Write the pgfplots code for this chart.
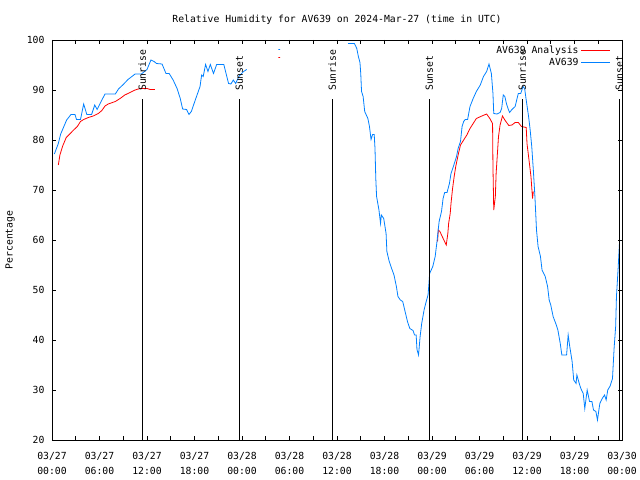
\documentclass[border=0pt]{standalone}
\usepackage{fontspec}
\setmainfont{DejaVu Sans Mono}
\usepackage{pgfplots}
\pgfplotsset{compat=1.18}
\definecolor{av}{RGB}{0,128,255}
\definecolor{an}{RGB}{255,0,0}
\begin{document}
\begin{tikzpicture}[font=\fontsize{9.8}{15}\selectfont]
\begin{axis}[
  scale only axis, width=570bp, height=400bp,
  xmin=0, xmax=72, ymin=20, ymax=100,
  unbounded coords=jump,
  xtick={0,6,...,72},
  xticklabels={03/27\\00:00,03/27\\06:00,03/27\\12:00,03/27\\18:00,03/28\\00:00,03/28\\06:00,03/28\\12:00,03/28\\18:00,03/29\\00:00,03/29\\06:00,03/29\\12:00,03/29\\18:00,03/30\\00:00},
  minor xtick={3,9,...,69},
  ytick={20,30,...,100},
  tick align=inside,
  major tick length=4bp, minor tick length=4bp,
  tick style={black, line width=0.7bp},
  axis line style={line width=0.8bp},
  xticklabel style={align=center, yshift=-9bp},
  yticklabel style={xshift=-4bp},
  /pgf/number format/assume math mode=true,
  title={Relative Humidity for AV639 on 2024-Mar-27 (time in UTC)},
  title style={at={(axis description cs:0.5,1)}, anchor=south, yshift=6bp},
  ylabel={Percentage},
  ylabel style={at={(axis description cs:-0.0737,0.5)}, anchor=center},
  legend style={at={(axis description cs:1,1)}, anchor=north east, draw=none, fill=none, xshift=-11bp, yshift=-4bp, inner sep=0pt, row sep=-1bp, text=black},
  legend cell align=right,
  legend plot pos=right,
]
\addlegendimage{legend image code/.code={\draw[draw=red, line width=1.2bp] (7bp,0bp) -- (36bp,0bp);}}
\addlegendentry{AV639 Analysis}
\addlegendimage{legend image code/.code={\draw[draw=av, line width=1.2bp] (7bp,0bp) -- (36bp,0bp);}}
\addlegendentry{AV639}
\addplot[an, line width=0.8bp, forget plot] coordinates {
(0.8,75)(1.0,77)(1.35,78.8)(1.8,80.5)(2.3,81.3)(2.8,82.1)(3.2,82.7)(3.6,83.7)(4.0,84.1)(4.6,84.5)(5.2,84.8)(5.85,85.3)(6.3,85.9)(6.7,86.8)(7.1,87.2)(8.0,87.7)(8.6,88.3)(9.2,89)(9.85,89.5)(10.5,90)(11.1,90.3)(12.0,90.3)(12.4,90.1)(13.0,90.1)
(13.1,nan)
(28.6,96.5)(28.8,96.5)
(29,nan)
(48.7,59.7)(48.8,62)(49.0,61.7)(49.2,61)(49.5,60)(49.8,59)(50.0,61.3)(50.1,63.3)(50.3,65.3)(50.4,67.3)(50.6,70.3)(50.8,72.7)(51.0,74.7)(51.3,77)(51.6,79)(52.0,80)(52.4,81)(52.8,82.3)(53.2,83.3)(53.6,84.3)(54.3,84.8)(54.9,85.2)(55.3,84.3)(55.65,83.3)(55.7,74.7)(55.8,66)(56.0,68.7)(56.1,73.3)(56.4,80.7)(56.6,83)(56.9,84.8)(57.2,84)(57.7,82.9)(58.1,83)(58.5,83.5)(58.9,83.5)(59.3,82.7)(59.9,82.5)(60.0,79.3)(60.2,76.7)(60.5,72.7)(60.7,68.3)(60.8,69.7)
};
\addplot[av, line width=0.8bp, forget plot] coordinates {
(0.3,77.2)(0.8,79.3)(1.1,81.2)(1.5,82.7)(1.85,84)(2.4,85.1)(2.9,85.1)(3.1,84.1)(3.6,84.1)(4.0,87.2)(4.4,85.1)(5.0,85.1)(5.4,87)(5.7,86.1)(6.3,88)(6.7,89.2)(8.0,89.2)(8.4,90.2)(9.0,91.1)(9.6,92.1)(10.5,93.2)(11.3,93.2)(12.0,94.1)(12.5,96)(12.9,95.7)(13.2,95.3)(13.9,95.2)(14.4,93.3)(14.8,93.3)(15.3,92)(15.8,90.3)(16.2,88.3)(16.5,86.2)(17.0,86.1)(17.3,85.1)(17.6,85.7)(18.1,88)(18.7,90.7)(18.9,93)(19.1,92.7)(19.4,95.1)(19.7,93.7)(20.0,95.1)(20.4,93.3)(20.8,95.1)(21.7,95.1)(22.3,91.3)(22.6,91.2)(22.9,92)(23.2,91.3)(23.6,92.7)(24.2,93.7)(24.6,94.1)
(24.7,nan)
(28.6,98.1)(28.8,98.1)
(29,nan)
(37.4,99.3)(38.2,99.3)(38.5,98.3)(38.7,96.7)(38.9,95.5)(39.0,93.3)(39.1,89.7)(39.3,88.7)(39.5,85.7)(39.9,84.3)(40.1,82.7)(40.3,80.1)(40.5,81.1)(40.7,81.1)(40.8,78.3)(40.9,72.3)(41.0,68.7)(41.3,66)(41.5,63.3)(41.6,65)(41.9,64.3)(42.2,61.3)(42.3,57.7)(42.6,55.7)(42.9,54.3)(43.2,53)(43.5,50.7)(43.7,48.7)(44.0,48)(44.3,47.7)(44.6,45.7)(44.9,43.7)(45.2,42.3)(45.6,41.9)(45.8,41)(46.0,41)(46.1,38.1)(46.3,37)(46.5,40.7)(46.7,43.3)(47.0,46)(47.2,47.3)(47.5,49)(47.6,51)(47.7,53.3)(48.1,54.7)(48.4,56.7)(48.6,59.3)(48.9,63.7)(49.2,65.7)(49.4,68.3)(49.6,69.5)(49.9,69.5)(50.2,71.3)(50.4,73.3)(50.7,74.7)(51.1,76.7)(51.3,78.3)(51.6,79.7)(51.8,82.7)(52.0,83.7)(52.2,84.1)(52.5,84.1)(52.8,86.7)(53.2,88.3)(53.6,89.7)(54.1,91)(54.5,92.7)(54.9,93.7)(55.2,95.2)(55.5,93.3)(55.7,89.3)(55.8,85.3)(56.2,85.2)(56.6,85.5)(56.8,86.3)(57.0,89)(57.2,88.7)(57.4,87.3)(57.6,86.3)(57.8,85.5)(58.1,86.1)(58.5,86.7)(58.9,89.3)(59.2,89.3)(59.5,90.7)(59.7,90.3)(59.9,88)(60.2,84.7)(60.4,82)(60.6,78.7)(60.8,74)(61.0,68.7)(61.2,62)(61.4,58.7)(61.7,56.7)(61.9,54)(62.3,52.7)(62.6,50.7)(62.8,48)(63.0,47)(63.3,44.7)(63.7,43)(63.9,42)(64.2,39.3)(64.4,37)(65.0,37)(65.2,41)(65.4,38.7)(65.7,35.7)(65.9,32)(66.2,31.3)(66.3,33)(66.6,31.3)(66.8,30.3)(67.1,29.3)(67.3,26.3)(67.6,30)(67.9,27.7)(68.2,27.7)(68.4,26)(68.7,25.7)(68.9,24)(69.2,27.3)(69.5,28.3)(69.8,29)(70.0,28)(70.2,30)(70.5,30.8)(70.8,32.3)(71.0,38.3)(71.2,42.7)(71.3,48.7)(71.5,54)(71.7,60)
};
\addplot[black, line width=0.8bp, forget plot] coordinates {(11.4,20)(11.4,88.2)};
\addplot[black, line width=0.8bp, forget plot] coordinates {(23.66,20)(23.66,88.2)};
\addplot[black, line width=0.8bp, forget plot] coordinates {(35.4,20)(35.4,88.2)};
\addplot[black, line width=0.8bp, forget plot] coordinates {(47.66,20)(47.66,88.2)};
\addplot[black, line width=0.8bp, forget plot] coordinates {(59.4,20)(59.4,88.2)};
\addplot[black, line width=0.8bp, forget plot] coordinates {(71.66,20)(71.66,88.2)};
\node[rotate=90, anchor=west, inner sep=0pt, xshift=1bp] at (axis cs:11.4,89.6) {Sunrise};
\node[rotate=90, anchor=west, inner sep=0pt, xshift=1bp] at (axis cs:23.66,89.6) {Sunset};
\node[rotate=90, anchor=west, inner sep=0pt, xshift=1bp] at (axis cs:35.4,89.6) {Sunrise};
\node[rotate=90, anchor=west, inner sep=0pt, xshift=1bp] at (axis cs:47.66,89.6) {Sunset};
\node[rotate=90, anchor=west, inner sep=0pt, xshift=1bp] at (axis cs:59.4,89.6) {Sunrise};
\node[rotate=90, anchor=west, inner sep=0pt, xshift=1bp] at (axis cs:71.66,89.6) {Sunset};
\end{axis}
\pgfresetboundingbox
\path[use as bounding box] ([shift={(-52bp,-40bp)}]current axis.south west) rectangle ([shift={(18bp,40bp)}]current axis.north east);
\end{tikzpicture}
\end{document}
